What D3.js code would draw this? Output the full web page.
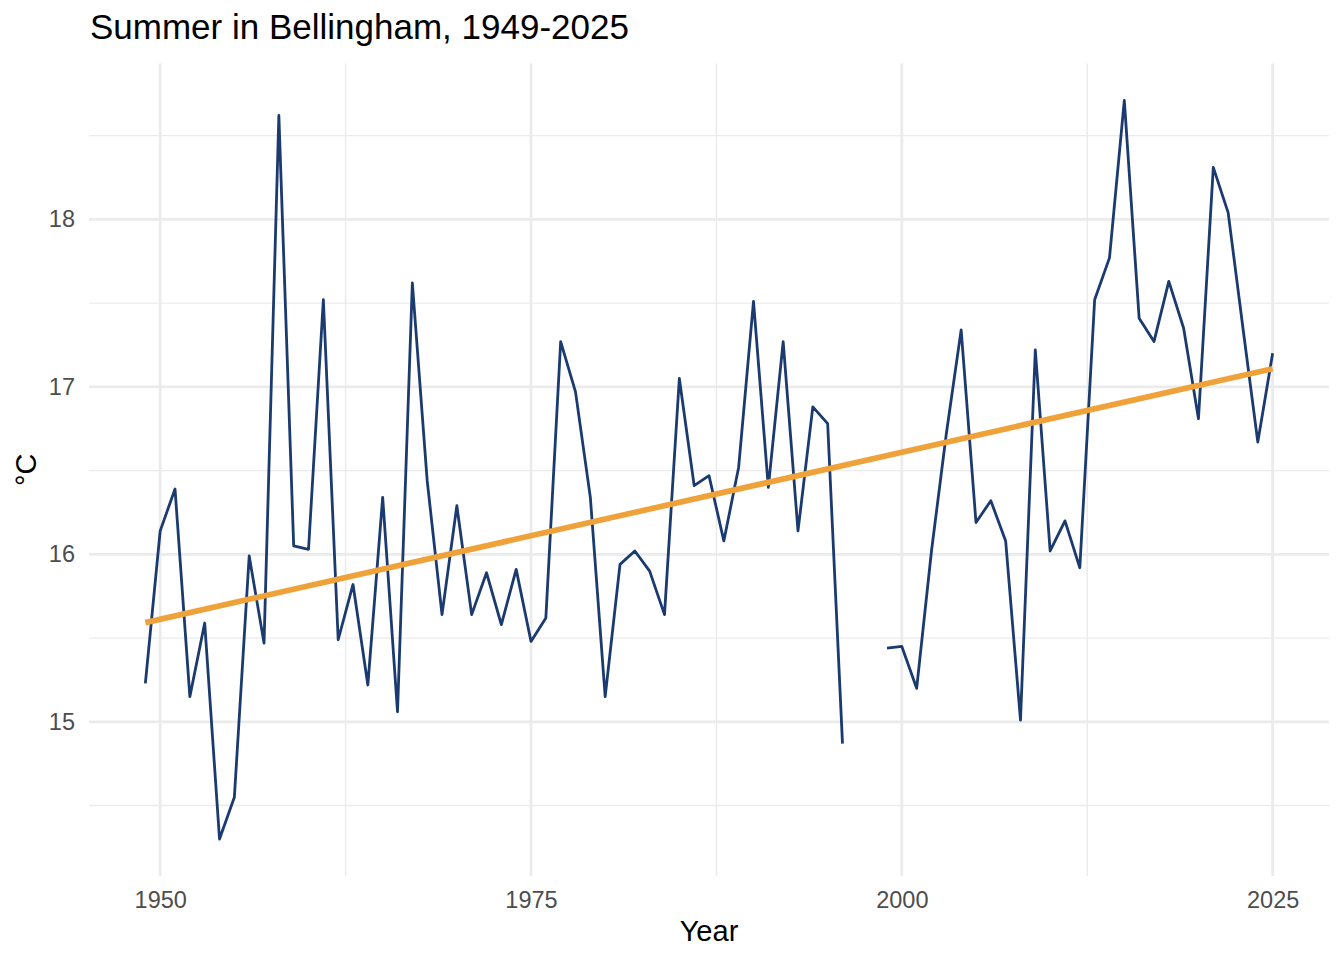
<!DOCTYPE html>
<html>
<head>
<meta charset="utf-8">
<script src="https://cdn.jsdelivr.net/npm/d3@7"></script>
<style>
  html, body { margin: 0; padding: 0; background: #ffffff; }
  svg { display: block; font-family: "Liberation Sans", Arial, Helvetica, sans-serif; }
</style>
</head>
<body>
<div id="chart"></div>
<script>
// Data (mean summer temperature, °C). 1997-1998 are missing.
const years = d3.range(1949, 2026);
const temps = [
  15.23, 16.14, 16.39, 15.15, 15.59, 14.30, 14.55, 15.99, 15.47, 18.62, // 1949-1958
  16.05, 16.03, 17.52, 15.49, 15.82, 15.22, 16.34, 15.06, 17.62, 16.44, // 1959-1968
  15.64, 16.29, 15.64, 15.89, 15.58, 15.91, 15.48, 15.62, 17.27, 16.97, // 1969-1978
  16.34, 15.15, 15.94, 16.02, 15.90, 15.64, 17.05, 16.41, 16.47, 16.08, // 1979-1988
  16.52, 17.51, 16.40, 17.27, 16.14, 16.88, 16.78, 14.87, null, null,   // 1989-1998
  15.44, 15.45, 15.20, 16.02, 16.72, 17.34, 16.19, 16.32, 16.08, 15.01, // 1999-2008
  17.22, 16.02, 16.20, 15.92, 17.52, 17.77, 18.71, 17.41, 17.27, 17.63, // 2009-2018
  17.35, 16.81, 18.31, 18.04, 17.35, 16.67, 17.20                        // 2019-2025
];
const xTicks = [1950, 1975, 2000, 2025];
const xMinor = [1962.5, 1987.5, 2012.5];
const yTicks = [15, 16, 17, 18];
const yMinor = [14.5, 15.5, 16.5, 17.5, 18.5];

const chartTitle = "Summer in Bellingham, 1949-2025";
const xTitle = "Year";
const yTitle = "°C";

// Layout
const width = 1344;
const height = 960;
const panel = { left: 89, right: 1329, top: 63.5, bottom: 876 };

const points = years.map((year, i) => ({ year: year, temp: temps[i] }));
const valid = points.filter(d => d.temp !== null);

// ggplot style 5% expansion on both axes
function expand(extent) {
  const pad = (extent[1] - extent[0]) * 0.05;
  return [extent[0] - pad, extent[1] + pad];
}

const x = d3.scaleLinear()
  .domain(expand(d3.extent(years)))
  .range([panel.left, panel.right]);
const y = d3.scaleLinear()
  .domain(expand(d3.extent(valid, d => d.temp)))
  .range([panel.bottom, panel.top]);

// least squares trend (geom_smooth method = "lm")
const meanX = d3.mean(valid, d => d.year);
const meanY = d3.mean(valid, d => d.temp);
const slope = d3.sum(valid, d => (d.year - meanX) * (d.temp - meanY)) /
  d3.sum(valid, d => (d.year - meanX) ** 2);
const intercept = meanY - slope * meanX;
const trend = d3.extent(valid, d => d.year).map(yr => ({ year: yr, temp: intercept + slope * yr }));

const svg = d3.select("#chart")
  .append("svg")
  .attr("width", width)
  .attr("height", height);

// grid
const grid = svg.append("g");
grid.selectAll(".minor-y")
  .data(yMinor.filter(v => v > y.domain()[0] && v < y.domain()[1]))
  .enter()
  .append("line")
  .attr("x1", panel.left).attr("x2", panel.right)
  .attr("y1", d => y(d)).attr("y2", d => y(d))
  .attr("stroke", "#ebebeb").attr("stroke-width", 1.4);
grid.selectAll(".minor-x")
  .data(xMinor)
  .enter()
  .append("line")
  .attr("x1", d => x(d)).attr("x2", d => x(d))
  .attr("y1", panel.top).attr("y2", panel.bottom)
  .attr("stroke", "#ebebeb").attr("stroke-width", 1.4);
grid.selectAll(".major-y")
  .data(yTicks)
  .enter()
  .append("line")
  .attr("x1", panel.left).attr("x2", panel.right)
  .attr("y1", d => y(d)).attr("y2", d => y(d))
  .attr("stroke", "#ebebeb").attr("stroke-width", 2.8);
grid.selectAll(".major-x")
  .data(xTicks)
  .enter()
  .append("line")
  .attr("x1", d => x(d)).attr("x2", d => x(d))
  .attr("y1", panel.top).attr("y2", panel.bottom)
  .attr("stroke", "#ebebeb").attr("stroke-width", 2.8);

// axes (labels only, like theme_minimal)
const xAxis = svg.append("g")
  .attr("transform", `translate(0,${panel.bottom})`)
  .call(d3.axisBottom(x).tickValues(xTicks).tickFormat(d3.format("d")).tickSize(0).tickPadding(15));
const yAxis = svg.append("g")
  .attr("transform", `translate(${panel.left},0)`)
  .call(d3.axisLeft(y).tickValues(yTicks).tickFormat(d3.format("d")).tickSize(0).tickPadding(14));
[xAxis, yAxis].forEach(ax => {
  ax.select(".domain").remove();
  ax.selectAll("text")
    .attr("fill", "#4d4d4d")
    .style("font-size", "23.5px")
    .style("font-family", "'Liberation Sans', Arial, sans-serif");
});

// temperature line
const line = d3.line()
  .defined(d => d.temp !== null)
  .x(d => x(d.year))
  .y(d => y(d.temp));

svg.append("path")
  .datum(points)
  .attr("fill", "none")
  .attr("stroke", "#1b3a6f")
  .attr("stroke-width", 2.8)
  .attr("stroke-linejoin", "round")
  .attr("d", line);

// trend line
svg.append("path")
  .datum(trend)
  .attr("fill", "none")
  .attr("stroke", "#efa23a")
  .attr("stroke-width", 5.7)
  .attr("d", d3.line().x(d => x(d.year)).y(d => y(d.temp)));

// titles
svg.append("text")
  .attr("x", 90)
  .attr("y", 39)
  .attr("fill", "#000")
  .style("font-size", "35px")
  .text(chartTitle);

svg.append("text")
  .attr("x", (panel.left + panel.right) / 2)
  .attr("y", 941)
  .attr("text-anchor", "middle")
  .attr("fill", "#000")
  .style("font-size", "29px")
  .text(xTitle);

svg.append("text")
  .attr("transform", `translate(36,${(panel.top + panel.bottom) / 2}) rotate(-90)`)
  .attr("text-anchor", "middle")
  .attr("fill", "#000")
  .style("font-size", "29px")
  .text(yTitle);
</script>
</body>
</html>
